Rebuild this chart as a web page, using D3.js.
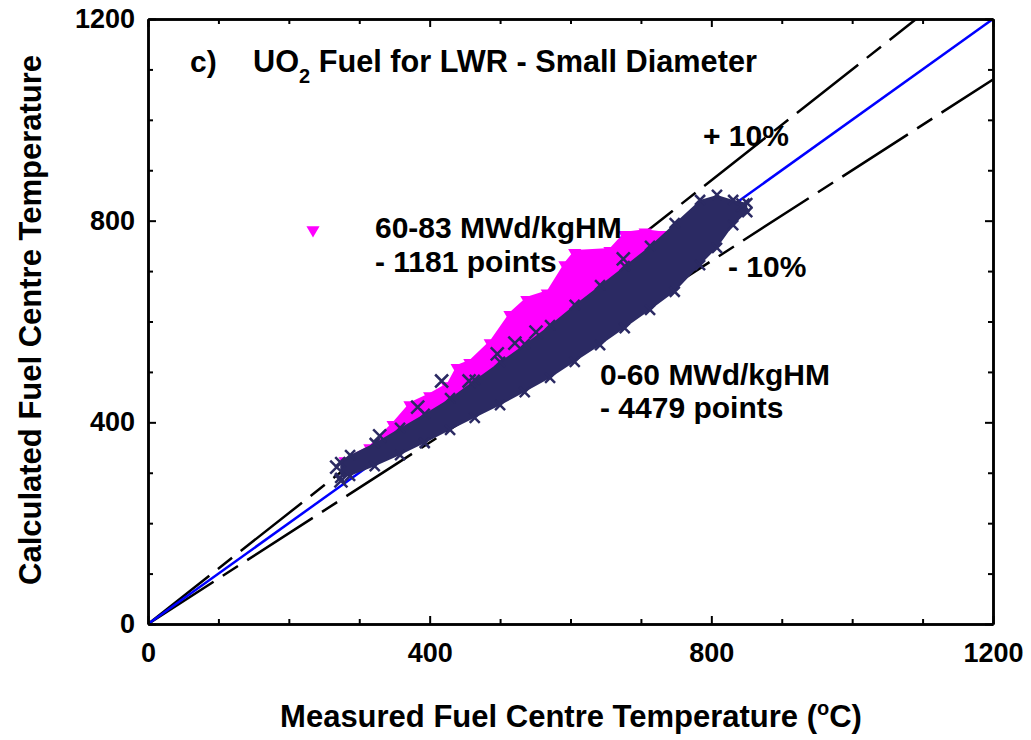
<!DOCTYPE html>
<html>
<head>
<meta charset="utf-8">
<script src="https://cdn.jsdelivr.net/npm/d3@7"></script>
<style>
  body { margin: 0; background: #fff; }
  text { font-family: "Liberation Sans", Arial, sans-serif; font-weight: bold; fill: #000; }
</style>
</head>
<body>
<div id="chart"></div>
<script>
//*******************************************************************//
//                    DATA
//*******************************************************************//

  // axis ticks
  var majorTicks = [0, 400, 800, 1200];
  var minorTicks = [100, 200, 300, 500, 600, 700, 900, 1000, 1100];

  // reference lines: calculated = factor * measured
  var refNames = ["+ 10%", "- 10%", "exact"];
  var refFactors = [1.1, 0.9, 1.0];

  // 0-60 MWd/kgHM cloud envelope (measured, upper calc, lower calc)
  var lowBuMeasured = [273, 287, 322, 358, 393, 429, 464, 500, 535, 571, 606, 642, 677, 713, 748, 784, 808, 831, 851];
  var lowBuUpper    = [321, 335, 359, 389, 417, 448, 484, 520, 555, 593, 633, 672, 710, 750, 795, 841, 851, 841, 835];
  var lowBuLower    = [290, 294, 313, 335, 359, 385, 409, 434, 460, 488, 520, 553, 587, 623, 659, 712, 746, 791, 817];

  // 0-60 MWd/kgHM isolated points
  var lowOutMeasured = [268, 274, 329, 383, 417, 456, 496, 521, 551, 675, 845];
  var lowOutCalc     = [311, 284, 373, 430, 482, 482, 536, 557, 579, 724, 831];

  // 60-83 MWd/kgHM cloud envelope
  var highBuMeasured = [280, 315, 348, 372, 400, 425, 439, 457, 486, 514, 538, 567, 592, 606, 656, 677, 706, 734, 748];
  var highBuUpper    = [329, 355, 401, 440, 458, 478, 514, 524, 563, 619, 649, 662, 718, 742, 746, 778, 783, 778, 762];
  var highBuLower    = [310, 330, 360, 380, 400, 420, 430, 440, 460, 490, 510, 540, 570, 580, 620, 650, 700, 740, 760];

  var navy = "#2b2a63";
  var magenta = "#ff00ff";

//*******************************************************************//
//                    CHART
//*******************************************************************//

var W = 1031, H = 740;
var margin = {top: 19, right: 38, bottom: 116, left: 148};

var svg = d3.select("#chart").append("svg")
    .attr("width", W)
    .attr("height", H);

var x = d3.scaleLinear().domain([0, 1200]).range([margin.left, W - margin.right]);
var y = d3.scaleLinear().domain([0, 1200]).range([H - margin.bottom, margin.top]);

svg.append("clipPath").attr("id", "plotClip")
  .append("rect")
    .attr("x", x(0)).attr("y", y(1200))
    .attr("width", x(1200) - x(0)).attr("height", y(0) - y(1200));

var plot = svg.append("g").attr("clip-path", "url(#plotClip)");

// reference lines
var refLine = d3.line()
    .x(function(d) { return x(d[0]); })
    .y(function(d) { return y(d[1]); });

refFactors.forEach(function(f, i) {
  var pts = [[0, 0], [1200, 1200 * f]];
  plot.append("path")
    .attr("d", refLine(pts))
    .attr("fill", "none")
    .attr("stroke", f === 1 ? "#0000ff" : "#000")
    .attr("stroke-width", 2.5)
    .attr("stroke-dasharray", f === 1 ? null : "78,11,18,11");
});

// clouds as filled envelopes
function cloud(meas, up, lo) {
  return meas.map(function(m, i) { return {m: m, up: up[i], lo: lo[i]}; });
}
var envArea = d3.area()
    .x(function(d) { return x(d.m); })
    .y0(function(d) { return y(d.lo); })
    .y1(function(d) { return y(d.up); })
    .curve(d3.curveLinear);

var highCloud = cloud(highBuMeasured, highBuUpper, highBuLower);
var lowCloud = cloud(lowBuMeasured, lowBuUpper, lowBuLower);

var triPath = d3.symbol().type(d3.symbolTriangle).size(75);

plot.append("path").datum(highCloud)
  .attr("d", envArea)
  .attr("fill", magenta);

plot.selectAll(".hiTri")
  .data(highCloud)
  .enter().append("path")
    .attr("d", triPath)
    .attr("transform", function(d) { return "translate(" + x(d.m) + "," + (y(d.up) + 3) + ") rotate(180)"; })
    .attr("fill", magenta);

plot.append("path").datum(lowCloud)
  .attr("d", envArea)
  .attr("fill", navy);

function cross(r) {
  return "M" + (-r) + "," + (-r) + "L" + r + "," + r + "M" + (-r) + "," + r + "L" + r + "," + (-r);
}

var edgePts = [];
lowCloud.forEach(function(d) {
  edgePts.push([d.m, d.up]);
  edgePts.push([d.m, d.lo]);
});

plot.selectAll(".edgeX")
  .data(edgePts)
  .enter().append("path")
    .attr("d", cross(5))
    .attr("transform", function(d) { return "translate(" + x(d[0]) + "," + y(d[1]) + ")"; })
    .attr("stroke", navy)
    .attr("stroke-width", 2.5)
    .attr("fill", "none");

plot.selectAll(".outX")
  .data(lowOutMeasured)
  .enter().append("path")
    .attr("d", cross(6.5))
    .attr("transform", function(d, i) { return "translate(" + x(d) + "," + y(lowOutCalc[i]) + ")"; })
    .attr("stroke", navy)
    .attr("stroke-width", 2.5)
    .attr("fill", "none");

// axes - ticks pointing inward on all four sides
function drawAxis(gen, tr, vals, size, labels) {
  var g = svg.append("g")
    .attr("transform", tr)
    .call(gen.tickValues(vals).tickSizeInner(-size).tickSizeOuter(0)
             .tickFormat(labels ? d3.format("d") : ""));
  g.select(".domain").attr("stroke-width", 2.5);
  g.selectAll(".tick line").attr("stroke-width", 2);
  g.selectAll("text")
    .style("font-size", "27px")
    .style("font-family", "'Liberation Sans', Arial, sans-serif")
    .style("font-weight", "bold");
  return g;
}

drawAxis(d3.axisBottom(x).tickPadding(19), "translate(0," + y(0) + ")", majorTicks, 8, true);
drawAxis(d3.axisBottom(x), "translate(0," + y(0) + ")", minorTicks, 5, false);
drawAxis(d3.axisTop(x), "translate(0," + y(1200) + ")", majorTicks, 8, false);
drawAxis(d3.axisTop(x), "translate(0," + y(1200) + ")", minorTicks, 5, false);
drawAxis(d3.axisLeft(y).tickPadding(13), "translate(" + x(0) + ",0)", majorTicks, 8, true);
drawAxis(d3.axisLeft(y), "translate(" + x(0) + ",0)", minorTicks, 5, false);
drawAxis(d3.axisRight(y), "translate(" + x(1200) + ",0)", majorTicks, 8, false);
drawAxis(d3.axisRight(y), "translate(" + x(1200) + ",0)", minorTicks, 5, false);

// axis titles
var xt = svg.append("text")
    .attr("x", 571).attr("y", 727)
    .attr("text-anchor", "middle")
    .style("font-size", "31px");
xt.append("tspan").text("Measured Fuel Centre Temperature (");
xt.append("tspan").attr("dy", -12).style("font-size", "20px").text("o");
xt.append("tspan").attr("dy", 12).text("C)");

svg.append("text")
    .attr("transform", "translate(41,320) rotate(-90)")
    .attr("text-anchor", "middle")
    .style("font-size", "31px")
    .text("Calculated Fuel Centre Temperature");

// panel title
svg.append("text").attr("x", 190).attr("y", 72).style("font-size", "30px").text("c)");
var tt = svg.append("text").attr("x", 253).attr("y", 72).style("font-size", "30.7px");
tt.append("tspan").text("UO");
tt.append("tspan").attr("dy", 11).style("font-size", "20px").text("2");
tt.append("tspan").attr("dy", -11).text(" Fuel for LWR - Small Diameter");

// line labels
svg.append("text").attr("x", 703).attr("y", 146).style("font-size", "30px").text(refNames[0]);
svg.append("text").attr("x", 728).attr("y", 277).style("font-size", "30px").text(refNames[1]);

// series labels
svg.append("path")
    .attr("d", triPath)
    .attr("transform", "translate(313,230) rotate(180)")
    .attr("fill", magenta);
svg.append("text").attr("x", 375).attr("y", 238).style("font-size", "30px").text("60-83 MWd/kgHM");
svg.append("text").attr("x", 375).attr("y", 272).style("font-size", "30px").text("- 1181 points");
svg.append("text").attr("x", 600).attr("y", 385).style("font-size", "30px").text("0-60 MWd/kgHM");
svg.append("text").attr("x", 600).attr("y", 418).style("font-size", "30px").text("- 4479 points");
</script>
</body>
</html>
